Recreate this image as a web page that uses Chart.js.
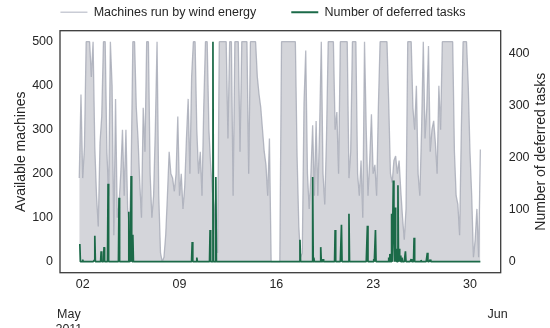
<!DOCTYPE html>
<html><head><meta charset="utf-8">
<script src="https://cdn.jsdelivr.net/npm/chart.js@4.4.1/dist/chart.umd.min.js"></script>
<style>html,body{margin:0;padding:0;background:#fff;}#wrap{width:550px;height:328px;}</style>
</head><body><div id="wrap"><canvas id="c" width="550" height="328"></canvas></div>
<script>
// ---- data (time in hours after 2011-05-01 00:00) ----
const seriesLabels = ['Machines run by wind energy', 'Number of deferred tasks'];
const axisTitles = ['Available machines', 'Number of deferred tasks'];
const machineStartHour = 18;
const machineStepHours = 3;
const machineValues = [
  190,380,190,260,500,500,500,420,500,260,
  150,80,270,330,500,500,250,150,500,400,
  60,370,100,130,200,300,150,300,120,80,
  200,500,500,350,280,180,100,350,250,500,
  500,200,100,150,300,500,150,20,0,10,
  60,150,250,200,190,160,200,330,150,200,
  120,170,280,370,200,420,500,500,300,200,
  250,150,350,500,500,300,220,160,130,50,
  20,500,500,500,500,500,280,500,500,150,
  500,500,500,250,500,500,500,500,200,500,
  500,500,500,420,380,350,300,250,220,150,
  280,0,0,0,0,0,0,500,500,500,
  500,500,500,500,500,500,240,80,10,20,
  360,480,200,120,200,310,150,320,150,300,
  500,200,130,280,500,500,500,500,300,340,
  200,500,500,500,500,500,190,250,500,500,
  500,200,150,230,100,500,300,150,230,335,
  200,220,150,350,500,500,500,500,500,360,
  200,180,230,240,200,230,160,100,50,120,
  500,500,500,350,300,400,200,150,300,500,
  280,350,490,250,300,320,270,200,400,300,
  500,500,500,500,500,500,500,250,150,130,
  60,300,500,500,500,400,250,150,10,50,
  120,10,255
];
const taskStartHour = 19;
const taskEndHour = 714;
const taskSpikeHours = [19,24,44,45,56,61,68,87,104,106,108,109,111,213,214,222,245,250,255,
  401,423,425,437,441,462,473,486,518,529,532,555,557,560,563,564,566,568,571,573,575,578,
  584,594,599,611,622,627];
const taskSpikeValues = [34,4,3,50,20,28,150,123,96,30,165,20,52,5,38,8,61,423,163,
  42,163,8,28,5,61,71,92,69,5,61,8,15,92,156,60,104,25,147,25,12,8,
  20,5,46,3,17,4];
const xTickDays = [2, 9, 16, 23, 30];
const xTickLabels = ['02', '09', '16', '23', '30'];
const monthStartDays = [1, 32];
const monthLabels = [['May', '2011'], ['Jun']];
const leftTicks = [0, 100, 200, 300, 400, 500];
const rightTicks = [0, 100, 200, 300, 400];

// ---- build tables ----
const dayToHour = d => (d - 1) * 24;
const machineData = machineValues.map((v, i) => ({x: machineStartHour + i * machineStepHours, y: v}));
const taskLookup = new Map(taskSpikeHours.map((h, i) => [h, taskSpikeValues[i]]));
const taskData = [];
for (let h = taskStartHour; h <= taskEndHour; h++) taskData.push({x: h, y: taskLookup.get(h) || 0});
const xTickMap = new Map();
xTickDays.forEach((d, i) => xTickMap.set(dayToHour(d), [xTickLabels[i]]));
monthStartDays.forEach((d, i) => xTickMap.set(dayToHour(d), ['', ''].concat(monthLabels[i])));

const FONT = '"Liberation Sans", Arial, sans-serif';
const TXT = '#262626';
Chart.defaults.font.family = FONT;
Chart.defaults.color = TXT;

const frame = {
  id: 'frame',
  afterLayout(chart) {
    const lg = chart.legend;
    if (lg) { lg.left -= 12; lg.right -= 12; lg.top -= 29; }
  },
  afterDatasetsDraw(chart) {
    const {ctx, chartArea: a} = chart;
    ctx.save();
    ctx.strokeStyle = '#3a3a3a';
    ctx.lineWidth = 1.3;
    ctx.strokeRect(a.left, a.top, a.right - a.left, a.bottom - a.top);
    ctx.restore();
  },
  afterDraw(chart) {
    const {ctx, chartArea: a} = chart;
    ctx.save();
    ctx.translate(541, (a.top + a.bottom) / 2);
    ctx.rotate(-Math.PI / 2);
    ctx.textAlign = 'center';
    ctx.textBaseline = 'middle';
    ctx.fillStyle = TXT;
    ctx.font = '14px ' + FONT;
    ctx.fillText(axisTitles[1], 0, 0);
    ctx.restore();
  }
};

new Chart(document.getElementById('c'), {
  type: 'line',
  data: {
    datasets: [
      {
        label: seriesLabels[0], data: machineData, yAxisID: 'y',
        borderColor: 'rgba(160,164,178,0.75)', backgroundColor: 'rgba(206,207,213,0.88)',
        borderWidth: 1.3, borderJoinStyle: 'bevel', fill: 'origin', pointRadius: 0, tension: 0, order: 2
      },
      {
        label: seriesLabels[1], data: taskData, yAxisID: 'y2',
        borderColor: '#1b6a48', backgroundColor: '#1b6a48',
        borderWidth: 1.7, borderJoinStyle: 'bevel', fill: false, pointRadius: 0, tension: 0, order: 1
      }
    ]
  },
  options: {
    responsive: false, animation: false, devicePixelRatio: 1,
    layout: {padding: 0},
    plugins: {
      tooltip: {enabled: false},
      legend: {
        position: 'top', align: 'center', maxHeight: 30.7,
        labels: {
          usePointStyle: true, pointStyle: 'line', pointStyleWidth: 27, padding: 35,
          color: TXT, font: {size: 12.5, family: FONT},
          generateLabels(chart) {
            const items = Chart.defaults.plugins.legend.labels.generateLabels(chart);
            items.sort((a, b) => a.datasetIndex - b.datasetIndex);
            items.forEach(it => {
              if (it.datasetIndex === 0) { it.strokeStyle = '#c9ccd5'; it.fillStyle = '#c9ccd5'; it.lineWidth = 1.5; }
              else { it.lineWidth = 1.8; }
            });
            return items;
          }
        }
      }
    },
    scales: {
      x: {
        type: 'linear', min: -15.4, max: 749.3,
        grid: {display: false, drawTicks: false}, border: {display: false},
        afterBuildTicks: s => { s.ticks = [...xTickMap.keys()].sort((a, b) => a - b).map(v => ({value: v})); },
        afterFit: s => { s.height = 55.3; },
        ticks: {
          autoSkip: false, maxRotation: 0, minRotation: 0, padding: 4, color: TXT,
          font: {size: 12.5, lineHeight: 1.2},
          callback: v => xTickMap.get(v) || ''
        }
      },
      y: {
        type: 'linear', position: 'left', min: -25, max: 525,
        grid: {display: false, drawTicks: false}, border: {display: false},
        afterBuildTicks: s => { s.ticks = leftTicks.map(v => ({value: v})); },
        afterFit: s => { s.width = 60; },
        ticks: {padding: 7, color: TXT, font: {size: 12.5}},
        title: {display: true, text: axisTitles[0], color: TXT, font: {size: 14}, padding: {top: 13, bottom: 0}}
      },
      y2: {
        type: 'linear', position: 'right', min: -21.15, max: 444.15,
        grid: {display: false, drawTicks: false}, border: {display: false},
        afterBuildTicks: s => { s.ticks = rightTicks.map(v => ({value: v})); },
        afterFit: s => { s.width = 49.3; },
        ticks: {padding: 8, color: TXT, font: {size: 12.5}}
      }
    }
  },
  plugins: [frame]
});
</script></body></html>
